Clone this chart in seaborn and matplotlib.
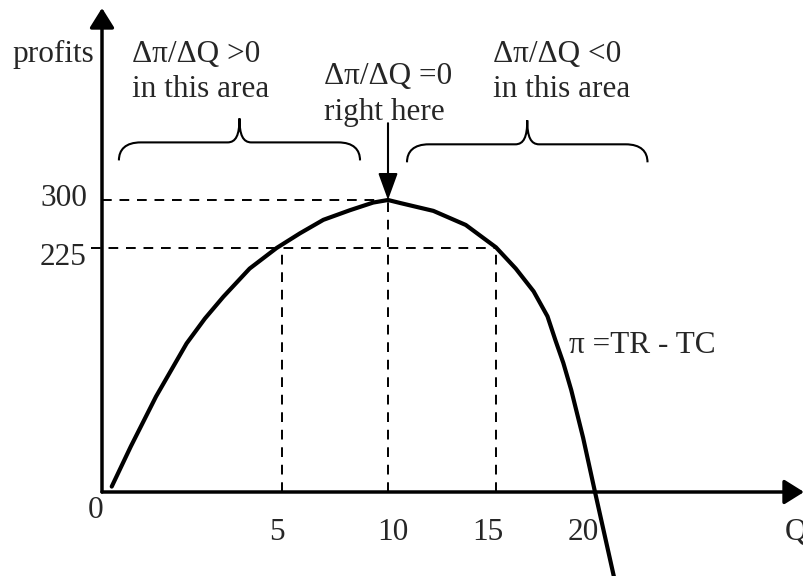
import numpy as np
import matplotlib
matplotlib.use("Agg")
import matplotlib.pyplot as plt
from matplotlib.path import Path
from matplotlib.patches import PathPatch
from matplotlib.transforms import IdentityTransform
import seaborn as sns

# profit curve pi = TR - TC
quantity = [0.27, 0.8, 1.5, 2.35, 2.86, 3.37, 4.1, 4.85, 5.85, 6.95, 8.2, 9.3, 10.0,
            10.6, 12.1, 13.6, 15.0, 16.0, 16.9, 17.6, 18.0, 18.4, 18.8, 19.4, 20.0, 20.9]
profit = [5, 42, 88, 137, 160, 180, 206, 225, 248, 269, 284, 296, 300,
          295, 283, 261, 226, 206, 185, 162, 140, 119, 94, 50, 0, -78]

x_ticks = [5, 10, 15, 20]
y_ticks = [225, 300]
q_best, pi_best = 10, 300      # profit maximum
q_equal, pi_equal = [5, 15], 225

# the sketch is not drawn to scale, so both axes get a piecewise scale
# (value knots -> pixel knots measured on the picture)
X_KNOTS = [-10, 0, 5, 10, 15, 20, 40]
X_PIX = [-258, 102, 282, 388, 496, 595, 1015]
Y_KNOTS = [-200, 0, 225, 300, 800]
Y_PIX = [-132.9, 84, 328, 376, 696]


def piecewise(knots, pix):
    fwd = lambda v: np.interp(v, knots, pix)
    inv = lambda p: np.interp(p, pix, knots)
    return fwd, inv


def brace(ax, q0, q1, level, drop=18, rise=24, r=22, r2=12):
    """Curly brace opening downwards, spanning q0..q1 at height level."""
    x0, y = ax.transData.transform([(q0, level)])[0]
    x1 = ax.transData.transform([(q1, level)])[0][0]
    xc = (x0 + x1) / 2
    ye, yt = y - drop, y + rise
    verts = [(x0, ye), (x0, ye + 0.6 * drop), (x0 + 0.3 * r, y), (x0 + r, y),
             (xc - r2, y),
             (xc - 0.3 * r2, y), (xc, y + 0.3 * rise), (xc, yt),
             (xc, y + 0.3 * rise), (xc + 0.3 * r2, y), (xc + r2, y),
             (x1 - r, y),
             (x1 - 0.3 * r, y), (x1, ye + 0.6 * drop), (x1, ye)]
    codes = ([Path.MOVETO] + [Path.CURVE4] * 3 + [Path.LINETO] + [Path.CURVE4] * 6
             + [Path.LINETO] + [Path.CURVE4] * 3)
    ax.add_patch(PathPatch(Path(verts, codes), transform=IdentityTransform(),
                           fill=False, lw=1.5, edgecolor="black"))


sns.set_style("white")
plt.rcParams["font.family"] = ["Liberation Serif", "DejaVu Serif"]
plt.rcParams["font.size"] = 22.5

fig = plt.figure(figsize=(8.04, 5.76), dpi=100)
ax = fig.add_axes([0, 0, 1, 1])
fx, ix = piecewise(X_KNOTS, X_PIX)
fy, iy = piecewise(Y_KNOTS, Y_PIX)
ax.set_xscale("function", functions=(fx, ix))
ax.set_yscale("function", functions=(fy, iy))

# dashed guide lines
dash = dict(color="black", lw=1.4, ls=(0, (5, 4)), zorder=1)
ax.plot([0, q_best], [pi_best, pi_best], **dash)
ax.plot([q_best, q_best], [0, pi_best], **dash)
ax.plot([-0.3, q_equal[1]], [pi_equal, pi_equal], **dash)
for q in q_equal:
    ax.plot([q, q], [0, pi_equal], **dash)

sns.lineplot(x=quantity, y=profit, ax=ax, color="black", linewidth=3,
             sort=False, estimator=None, zorder=3, solid_joinstyle="round")

ax.set_xlim(ix(0), ix(804))
ax.set_ylim(iy(0), iy(576))
ax.set_xticks([])
ax.set_yticks([])
for s in ax.spines.values():
    s.set_visible(False)

# axes with arrow heads
axis_arrow = dict(arrowstyle="-|>,head_length=0.4,head_width=0.25", lw=2.5,
                  color="black", mutation_scale=30, shrinkA=0, shrinkB=0)
ax.annotate("", xy=(1, 0), xycoords=("axes fraction", "data"),
            xytext=(0, 0), textcoords="data", arrowprops=axis_arrow)
ax.annotate("", xy=(0, 1 - 8 / 576), xycoords=("data", "axes fraction"),
            xytext=(0, 0), textcoords="data", arrowprops=axis_arrow)

# arrow pointing at the maximum
ax.annotate("", xy=(q_best, pi_best), xytext=(q_best, 420),
            arrowprops=dict(arrowstyle="-|>,head_length=0.55,head_width=0.2",
                            lw=1.5, color="black", mutation_scale=30,
                            shrinkA=0, shrinkB=0))

brace(ax, 0.47, 8.68, 390)
brace(ax, 10.88, 22.5, 387)

# tick labels
for q, dx in zip(x_ticks, [-5, 5, -8, -12]):
    ax.annotate(str(q), xy=(q, 0), xytext=(dx, -48), textcoords="offset pixels",
                ha="center", va="baseline")
ax.annotate("0", xy=(0, 0), xytext=(-6, -26), textcoords="offset pixels",
            ha="center", va="baseline")
for p, dy in zip(y_ticks, [-17, -6]):
    ax.annotate(str(p), xy=(0, p), xytext=(-15, dy), textcoords="offset pixels",
                ha="right", va="baseline")

# labels and notes
tr = ax.transAxes
ax.text(0.1173, 0.8929, "profits", ha="right", va="baseline", transform=tr)
ax.text(0.9764, 0.0625, "Q", ha="left", va="baseline", transform=tr)
ax.text(0.1638, 0.8929, "Δπ/ΔQ >0", va="baseline", transform=tr)
ax.text(0.1638, 0.8321, "in this area", va="baseline", transform=tr)
ax.text(0.4030, 0.8536, "Δπ/ΔQ =0", va="baseline", transform=tr)
ax.text(0.4030, 0.7917, "right here", va="baseline", transform=tr)
ax.text(0.6128, 0.8929, "Δπ/ΔQ <0", va="baseline", transform=tr)
ax.text(0.6128, 0.8321, "in this area", va="baseline", transform=tr)
ax.text(0.7081, 0.3877, "π =TR - TC", va="baseline", transform=tr)

fig.savefig("out.png", dpi=100)
